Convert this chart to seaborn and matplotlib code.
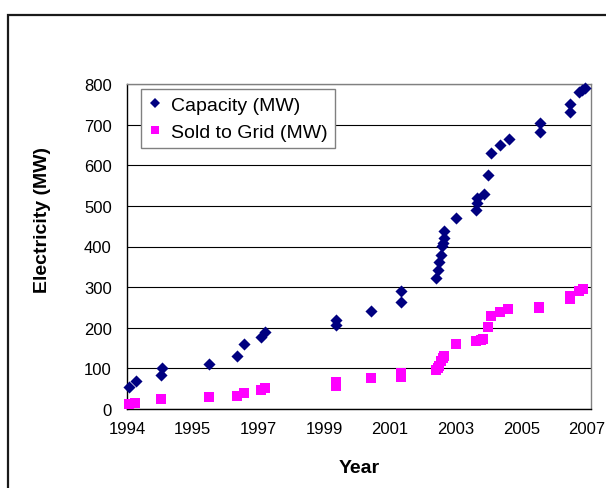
import numpy as np
import pandas as pd
import matplotlib
matplotlib.use("Agg")
import matplotlib.pyplot as plt
import seaborn as sns
from matplotlib.lines import Line2D
from matplotlib.patches import Rectangle

# ---- data ----
cap_year = [1994.06, 1994.25, 1994.96, 1995.00, 1996.32, 1997.10, 1997.30, 1997.80, 1997.90,
            1999.90, 1999.90, 2000.90, 2001.73, 2001.73, 2002.72, 2002.80, 2002.83, 2002.87,
            2002.89, 2002.92, 2002.97, 2002.97, 2003.31, 2003.87, 2003.88, 2003.90, 2004.10,
            2004.20, 2004.30, 2004.55, 2004.80, 2005.66, 2005.66, 2006.52, 2006.52, 2006.78,
            2006.86, 2006.95]
cap_mw = [53, 68, 84, 100, 112, 131, 159, 177, 190,
          208, 219, 241, 263, 291, 323, 342, 361, 378,
          401, 409, 422, 438, 470, 490, 507, 519, 530,
          576, 631, 651, 664, 683, 703, 730, 750, 781,
          785, 791]

grid_year = [1994.06, 1994.23, 1994.96, 1996.32, 1997.10, 1997.30, 1997.80, 1997.90,
             1999.90, 1999.90, 2000.90, 2001.73, 2001.73, 2002.72, 2002.80, 2002.83,
             2002.87, 2002.92, 2002.97, 2003.30, 2003.85, 2004.00, 2004.07, 2004.19,
             2004.30, 2004.55, 2004.76, 2005.65, 2005.65, 2006.51, 2006.51, 2006.77, 2006.90]
grid_mw = [12, 16, 25, 30, 33, 39, 46, 51,
           57, 67, 76, 78, 89, 95, 100, 107,
           117, 125, 131, 161, 167, 170, 173, 201,
           230, 239, 246, 248, 252, 271, 278, 290, 296]

series_names = ["Capacity (MW)", "Sold to Grid (MW)"]
x_tick_labels = ["1994", "1995", "1997", "1999", "2001", "2003", "2005", "2007"]
y_ticks = [0, 100, 200, 300, 400, 500, 600, 700, 800]

df = pd.concat([
    pd.DataFrame({"Year": cap_year, "MW": cap_mw, "Series": series_names[0]}),
    pd.DataFrame({"Year": grid_year, "MW": grid_mw, "Series": series_names[1]}),
], ignore_index=True)

# ---- style ----
sns.set_style("white")
plt.rcParams["font.family"] = ["Liberation Sans", "DejaVu Sans"]
plt.rcParams["text.color"] = "black"
plt.rcParams["axes.labelcolor"] = "black"
plt.rcParams["xtick.color"] = "black"
plt.rcParams["ytick.color"] = "black"

fig = plt.figure(figsize=(6.06, 4.89), dpi=100)
ax = fig.add_axes([127 / 606, 1 - 410 / 489, 464 / 606, 325 / 489])

colors = {series_names[0]: "#000080", series_names[1]: "#FF00FF"}

sns.scatterplot(data=df[df.Series == series_names[1]], x="Year", y="MW", ax=ax,
                color=colors[series_names[1]], marker="s", s=46, linewidth=0,
                clip_on=False, zorder=3, legend=False)
sns.scatterplot(data=df[df.Series == series_names[0]], x="Year", y="MW", ax=ax,
                color=colors[series_names[0]], marker="D", s=38, linewidth=0,
                clip_on=False, zorder=4, legend=False)

# axes
x0, x1 = 1994.0, 2007.0
step = (x1 - x0) / 7
ax.set_xlim(x0, x0 + 464 / 460 * (x1 - x0))
ax.set_ylim(0, 800)
ax.set_xticks([x0 + k * step for k in range(8)])
ax.set_xticklabels(x_tick_labels)
ax.set_yticks(y_ticks)
ax.set_yticklabels([str(v) for v in y_ticks])
ax.tick_params(axis="both", direction="in", length=5, width=0.8, colors="black",
               labelsize=12)
ax.tick_params(axis="y", pad=11)
ax.tick_params(axis="x", pad=9)

ax.yaxis.grid(True, color="black", linewidth=0.8)
ax.set_axisbelow(True)

for side in ["left", "bottom"]:
    ax.spines[side].set_color("black")
    ax.spines[side].set_linewidth(1.0)
for side in ["top", "right"]:
    ax.spines[side].set_color("#808080")
    ax.spines[side].set_linewidth(1.0)
    ax.spines[side].set_visible(True)

ax.set_xlabel("Year", fontsize=14, fontweight="bold", labelpad=16)
ax.set_ylabel("Electricity (MW)", fontsize=14, fontweight="bold")
ax.yaxis.set_label_coords((51 - 127) / 464, (410 - 220) / 325)

handles = [
    Line2D([], [], linestyle="none", marker="D", markersize=5, color=colors[series_names[0]],
           markeredgewidth=0),
    Line2D([], [], linestyle="none", marker="s", markersize=5.5, color=colors[series_names[1]],
           markeredgewidth=0),
]
leg = ax.legend(handles, series_names, loc="upper left", bbox_to_anchor=(0.03, 0.985),
                frameon=True, fancybox=False, shadow=False, fontsize=14,
                handlelength=0.6, handletextpad=0.55, borderpad=0.4, labelspacing=0.45,
                borderaxespad=0)
leg.get_frame().set_edgecolor("#808080")
leg.get_frame().set_linewidth(1.0)
leg.get_frame().set_facecolor("white")
leg.get_frame().set_alpha(1)

# outer chart border (open to the right and bottom, as in the reference)
top = 1 - 16 / 489
fig.patches.append(Rectangle((8 / 606, -0.2), 1.2, top + 0.2,
                             transform=fig.transFigure, fill=False,
                             edgecolor="#1a1a1a", linewidth=1.6))

fig.savefig("out.png", dpi=100)
